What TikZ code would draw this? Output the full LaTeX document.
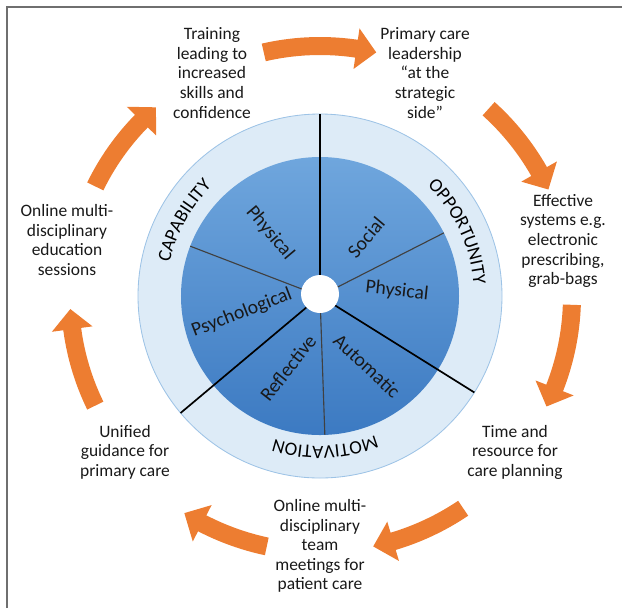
\documentclass[tikz,border=0pt]{standalone}
\usepackage{fontspec}
\setmainfont{Carlito}
\usetikzlibrary{decorations.text}
\definecolor{ringblue}{HTML}{DDEBF7}
\definecolor{ringedge}{HTML}{9DC3E6}
\definecolor{coretop}{HTML}{6FA6DD}
\definecolor{corebottom}{HTML}{3C7AC2}
\definecolor{cycleorange}{HTML}{ED7D31}
\definecolor{framegray}{HTML}{6F6F6F}
\newcommand\ringfont{\fontsize{13.5}{16}\selectfont}
\def\bentarrow(#1:#2:#3){\fill[cycleorange] (#1:#3+9) arc[start angle=#1, end angle=#2+4.6, radius=#3+9] -- (#2+4.6:#3+20.5) -- (#2:#3) -- (#2+4.6:#3-20.5) -- (#2+4.6:#3-9) arc[start angle=#2+4.6, end angle=#1, radius=#3-9] -- cycle;}

\begin{document}
\begin{tikzpicture}[x=0.025cm, y=0.025cm,
	cycletext/.style={align=center, inner sep=0pt, text=black!90, font=\fontsize{12.4}{13.9}\selectfont},
	corelabel/.style={inner sep=0pt, text=black!90, font=\fontsize{14}{16}\selectfont},
	majorspoke/.style={line width=1.2pt, color=black},
	minorspoke/.style={line width=0.8pt, color=black!75}]
			%%%%% START %%%%%
			\useasboundingbox (-320, -312) rectangle (302, 296);
			
			\draw[framegray, line width=1.4pt] (-313, -312) -- (-313, 289) -- (302, 289);
			
			\draw[ringedge, fill=ringblue, line width=0.6pt] (0, 0) circle[radius=182];
			\shade[top color=coretop, bottom color=corebottom] (0, 0) circle[radius=139];
			
			\draw[minorspoke] (0, 0) -- (159:139);
			\draw[minorspoke] (0, 0) -- (27:139);
			\draw[minorspoke] (0, 0) -- (-88:139);
			
			\draw[majorspoke] (0, 0) -- (90:182);
			\draw[majorspoke] (0, 0) -- (220:182);
			\draw[majorspoke] (0, 0) -- (-32:182);
			
			\fill[white] (0, 2) circle[radius=19];
			
			\path[decorate, decoration={text along path, text align=center, text={|\ringfont|CAPABILITY}}] (181:154) arc[start angle=181, end angle=121, radius=154];
			\path[decorate, decoration={text along path, text align=center, text={|\ringfont|OPPORTUNITY}}] (55:154) arc[start angle=55, end angle=-5, radius=154];
			\path[decorate, decoration={text along path, text align=center, text={|\ringfont|MOTIVATION}}] (-58:150) arc[start angle=-58, end angle=-118, radius=150];
			
			\node[corelabel, rotate=-50] (capphys) at (-50, 63) {Physical};
			\node[corelabel, rotate=21] (capsych) at (-78, -17) {Psychological};
			\node[corelabel, rotate=50] (oppsoc) at (46, 59) {Social};
			\node[corelabel, rotate=-6] (opphys) at (77, 5) {Physical};
			\node[corelabel, rotate=52] (motref) at (-32, -72) {Reflective};
			\node[corelabel, rotate=-43] (motauto) at (47, -70) {Automatic};
			
			\node[cycletext] (training) at (-108, 223) {Training\\leading to\\increased\\skills and\\confidence};
			\node[cycletext] (leadership) at (105, 223) {Primary care\\leadership\\“at the\\strategic\\side”};
			\node[cycletext] (systems) at (243, 55) {Effective\\systems e.g.\\electronic\\prescribing,\\grab-bags};
			\node[cycletext] (resource) at (195, -156) {Time and\\resource for\\care planning};
			\node[cycletext] (meetings) at (0, -250) {Online multi-\\disciplinary\\team\\meetings for\\patient care};
			\node[cycletext] (guidance) at (-195, -156) {Unified\\guidance for\\primary care};
			\node[cycletext] (sessions) at (-253, 56) {Online multi-\\disciplinary\\education\\sessions};
			
			\bentarrow(103:77:250)
			\bentarrow(48:25:252)
			\bentarrow(-2:-26:252)
			\bentarrow(-56:-78:256)
			\bentarrow(-102:-122:256)
			\bentarrow(-154:-177:250)
			\bentarrow(154:131:250)
			
			%%%%% END %%%%%
\end{tikzpicture}
\end{document}
